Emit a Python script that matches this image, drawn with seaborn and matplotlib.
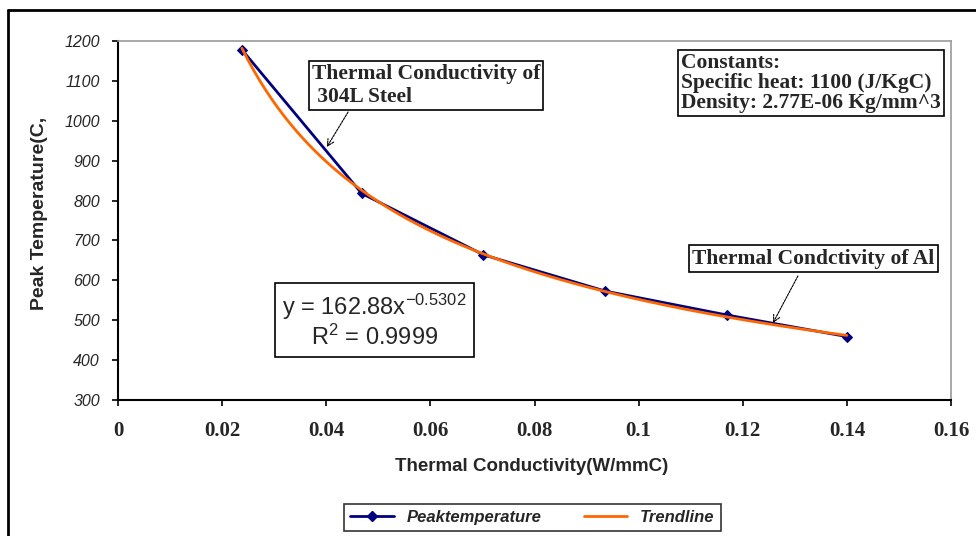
import numpy as np
import pandas as pd
import matplotlib
matplotlib.use("Agg")
import matplotlib.pyplot as plt
from matplotlib.lines import Line2D
import seaborn as sns

# Measured peak temperatures versus thermal conductivity
conductivity = [0.0238, 0.0468, 0.0702, 0.0936, 0.1170, 0.1400]
peak_temp = [1178, 818, 664, 573, 513, 459]

# Power-law trendline coefficients (y = a * x^b)
trend_a = 162.88
trend_b = -0.5302
trend_r2 = 0.9999

x_ticks = [0, 0.02, 0.04, 0.06, 0.08, 0.1, 0.12, 0.14, 0.16]
x_tick_labels = ["0", "0.02", "0.04", "0.06", "0.08", "0.1", "0.12", "0.14", "0.16"]
y_ticks = [300, 400, 500, 600, 700, 800, 900, 1000, 1100, 1200]

sns.set_theme(style="white")
plt.rcParams["font.family"] = ["Liberation Sans", "DejaVu Sans"]
plt.rcParams["mathtext.default"] = "regular"

NAVY = "#000080"
ORANGE = "#FF6600"
SERIF = ["Liberation Serif", "DejaVu Serif"]

fig = plt.figure(figsize=(9.76, 5.36), dpi=100)
fig.patch.set_facecolor("white")
ax = fig.add_axes([118 / 976, 1 - 400 / 536, 833 / 976, 359 / 536])

data = pd.DataFrame({"k": conductivity, "T": peak_temp})
xs = np.linspace(conductivity[0], conductivity[-1], 200)
trend = pd.DataFrame({"k": xs, "T": trend_a * xs ** trend_b})

sns.lineplot(data=trend, x="k", y="T", ax=ax, color=ORANGE, lw=2.0, zorder=3)
sns.lineplot(data=data, x="k", y="T", ax=ax, color=NAVY, lw=2.0,
             marker="D", markersize=5, markeredgecolor=NAVY, zorder=2)

ax.set_xlim(0, 0.16)
ax.set_ylim(300, 1200)
ax.set_xticks(x_ticks)
ax.set_xticklabels(x_tick_labels, fontfamily=SERIF, fontweight="bold", fontsize=15)
ax.set_yticks(y_ticks)
ax.set_yticklabels([str(v) for v in y_ticks], fontstyle="italic", fontsize=11.5)
ax.tick_params(axis="both", which="major", direction="out", length=4, width=1.2,
               color="black", bottom=True, left=True)
ax.tick_params(axis="x", pad=11)
ax.tick_params(axis="y", pad=9)

for side in ["left", "bottom"]:
    ax.spines[side].set_color("black")
    ax.spines[side].set_linewidth(1.5)
for side in ["top", "right"]:
    ax.spines[side].set_color("#9a9a9a")
    ax.spines[side].set_linewidth(1.2)

ax.set_xlabel("Thermal Conductivity(W/mmC)", fontsize=13.5, fontweight="bold")
ax.set_ylabel("Peak Temperature(C,", fontsize=14, fontweight="bold")
ax.xaxis.set_label_coords(0.496, -0.162)
ax.yaxis.set_label_coords(-0.084, 0.52)

box = dict(boxstyle="square,pad=0.15", facecolor="white", edgecolor="black", lw=1.2)

# Steel annotation
ax.annotate("Thermal Conductivity of\n 304L Steel",
            xy=(0.0401, 934), xytext=(0.3697, 0.876), textcoords="axes fraction",
            ha="center", va="center", multialignment="left",
            fontfamily=SERIF, fontweight="bold", fontsize=15.5, bbox=box, zorder=5)
ax.annotate("", xy=(0.0401, 934), xytext=(0.0442, 1022),
            arrowprops=dict(arrowstyle="->", lw=0.8, color="black",
                            linestyle=(0, (2, 1)), shrinkA=0, shrinkB=0))

# Aluminium annotation
ax.text(0.835, 0.394, "Thermal Condctivity of Al", transform=ax.transAxes,
        ha="center", va="center", fontfamily=SERIF, fontweight="bold",
        fontsize=15.5, bbox=box, zorder=5)
ax.annotate("", xy=(0.1258, 493), xytext=(0.1306, 611),
            arrowprops=dict(arrowstyle="->", lw=0.8, color="black",
                            linestyle=(0, (2, 1)), shrinkA=0, shrinkB=0))

# Material constants
ax.text(0.832, 0.883,
        "Constants:\nSpecific heat: 1100 (J/KgC)\nDensity: 2.77E-06 Kg/mm^3",
        transform=ax.transAxes, ha="center", va="center", multialignment="left",
        fontfamily=SERIF, fontweight="bold", fontsize=15.5, linespacing=1.0,
        bbox=box, zorder=5)

# Trendline equation
eq = ("y = %.2fx$^{%.4f}$\nR$^{2}$ = %.4f" % (trend_a, trend_b, trend_r2))
ax.text(0.3079, 0.220, eq, transform=ax.transAxes, ha="center", va="center",
        multialignment="center", fontsize=17, linespacing=1.15,
        bbox=dict(boxstyle="square,pad=0.3", facecolor="white",
                  edgecolor="black", lw=1.2), zorder=5)

# Legend below the plot
handles = [Line2D([], [], color=NAVY, lw=2.0, marker="D", markersize=5),
           Line2D([], [], color=ORANGE, lw=2.0)]
leg = fig.legend(handles, ["Peaktemperature", "Trendline"], loc="center",
                 bbox_to_anchor=(532.5 / 976, 1 - 517.5 / 536), ncol=2,
                 frameon=True, fancybox=False, handlelength=2.6, columnspacing=2.5,
                 prop=dict(family="Liberation Sans", weight="bold", style="italic", size=12),
                 borderpad=0.35)
leg.get_frame().set_edgecolor("black")
leg.get_frame().set_linewidth(1.2)

# Outer chart frame (left and top edges)
fig.add_artist(Line2D([8 / 976, 8 / 976], [0, 1 - 10 / 536], transform=fig.transFigure,
                      color="black", lw=2))
fig.add_artist(Line2D([8 / 976, 1], [1 - 10 / 536, 1 - 10 / 536], transform=fig.transFigure,
                      color="black", lw=2))

fig.savefig("out.png", dpi=100, facecolor="white")
